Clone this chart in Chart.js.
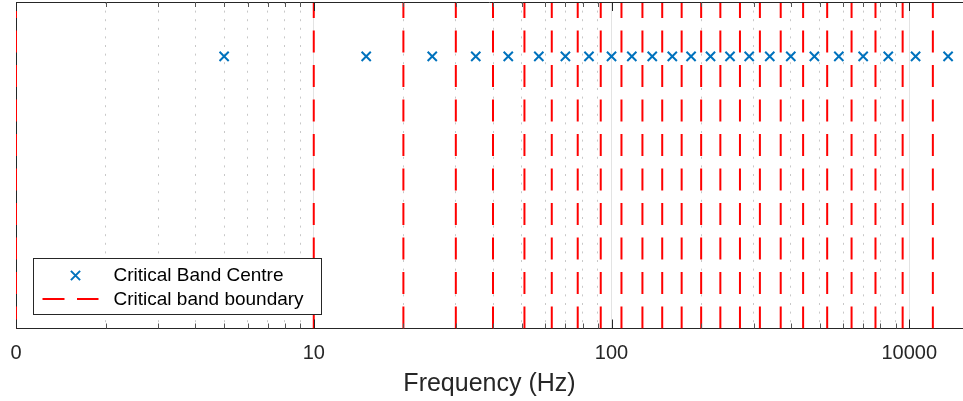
<!DOCTYPE html>
<html>
<head>
<meta charset="utf-8">
<title>Critical bands</title>
<script src="https://cdn.jsdelivr.net/npm/chart.js@4/dist/chart.umd.min.js"></script>
<style>
    html, body { margin: 0; padding: 0; background: #fff; overflow: hidden; }
    #wrap { width: 963px; height: 401px; }
</style>
</head>
<body>
<div id="wrap"><canvas id="chartBands" width="963" height="401"></canvas></div>
<script>
// values (axis units as drawn)
const bandCentres = [5, 15, 25, 35, 45, 57, 70, 84, 100, 117, 137, 160, 185, 215, 250, 290, 340, 400, 480, 580, 700, 850, 1050, 1350];
const bandBoundaries = [1, 10, 20, 30, 40, 51, 63, 77, 92, 108, 127, 148, 172, 200, 232, 270, 315, 370, 440, 530, 640, 770, 950, 1200];
const markerLevel = 1;
const tickValues = [1, 10, 100, 1000];
const tickLabels = ["0", "10", "100", "10000"];
const seriesNames = ["Critical Band Centre", "Critical band boundary"];

const FONT = '"Liberation Sans", Arial, sans-serif';
const BLUE = "#0072BD";
const RED = "#FF0000";
const AXIS = "#262626";
const DASH = [22, 12.5];

const isMajor = (v) => tickValues.includes(v);

// ticks pointing into the plot, top and bottom, like the original
const innerTicks = {
    id: "innerTicks",
    afterDraw(chart) {
        const { ctx, chartArea } = chart;
        const xs = chart.scales.x;
        ctx.save();
        ctx.lineWidth = 1;
        ctx.strokeStyle = AXIS;
        ctx.beginPath();
        ctx.moveTo(chartArea.left, chartArea.top + 0.5);
        ctx.lineTo(chartArea.right, chartArea.top + 0.5);
        ctx.stroke();
        xs.ticks.forEach((t) => {
            const px = Math.round(xs.getPixelForValue(t.value)) + 0.5;
            const len = isMajor(t.value) ? 9 : 5;
            ctx.strokeStyle = isMajor(t.value) ? AXIS : "#555555";
            ctx.beginPath();
            ctx.moveTo(px, chartArea.bottom);
            ctx.lineTo(px, chartArea.bottom - len);
            ctx.moveTo(px, chartArea.top);
            ctx.lineTo(px, chartArea.top + len);
            ctx.stroke();
        });
        ctx.restore();
    },
};

// boxed legend in the lower left corner of the plot
const boxLegend = {
    id: "boxLegend",
    afterDraw(chart) {
        const { ctx, chartArea } = chart;
        const x = chartArea.left + 17.5;
        const y = chartArea.bottom - 70;
        ctx.save();
        ctx.fillStyle = "#ffffff";
        ctx.strokeStyle = AXIS;
        ctx.lineWidth = 1;
        ctx.fillRect(x, y, 288, 56);
        ctx.strokeRect(x, y, 288, 56);

        // cross marker
        const cx = x + 42, cy = y + 17, h = 4.6;
        ctx.strokeStyle = BLUE;
        ctx.lineWidth = 2;
        ctx.beginPath();
        ctx.moveTo(cx - h, cy - h);
        ctx.lineTo(cx + h, cy + h);
        ctx.moveTo(cx - h, cy + h);
        ctx.lineTo(cx + h, cy - h);
        ctx.stroke();

        // dashed line sample
        ctx.strokeStyle = RED;
        ctx.setLineDash(DASH);
        ctx.beginPath();
        ctx.moveTo(x + 9, y + 40.5);
        ctx.lineTo(x + 65, y + 40.5);
        ctx.stroke();
        ctx.setLineDash([]);

        ctx.fillStyle = "#000000";
        ctx.font = "19px " + FONT;
        ctx.textBaseline = "middle";
        ctx.textAlign = "left";
        ctx.fillText(seriesNames[0], x + 80, y + 17);
        ctx.fillText(seriesNames[1], x + 80, y + 41);
        ctx.restore();
    },
};

let boundaryPoints = [];
bandBoundaries.forEach((b) => {
    boundaryPoints.push({ x: b, y: 0 }, { x: b, y: 1.2 }, { x: b, y: null });
});

let chart = new Chart(document.getElementById("chartBands"), {
    type: "scatter",
    data: {
        datasets: [
            {
                label: seriesNames[0],
                data: bandCentres.map((c) => ({ x: c, y: markerLevel })),
                pointStyle: "crossRot",
                pointRadius: 6.5,
                pointBorderWidth: 2,
                borderColor: BLUE,
                backgroundColor: BLUE,
            },
            {
                label: seriesNames[1],
                data: boundaryPoints,
                showLine: true,
                spanGaps: false,
                borderColor: RED,
                borderWidth: 2,
                borderDash: DASH,
                pointRadius: 0,
            },
        ],
    },
    options: {
        responsive: false,
        animation: false,
        events: [],
        layout: { autoPadding: false, padding: { left: 16, top: 2, right: 0, bottom: 0 } },
        plugins: {
            legend: { display: false },
            tooltip: { enabled: false },
        },
        scales: {
            x: {
                type: "logarithmic",
                min: 1,
                max: 1515,
                afterBuildTicks(scale) {
                    let ticks = [];
                    tickValues.forEach((d) => {
                        for (let m = 1; m <= 9; m++) {
                            if (m * d <= scale.max) ticks.push({ value: m * d });
                        }
                    });
                    scale.ticks = ticks;
                },
                afterFit(scale) {
                    scale.height = 72.5;
                    scale.paddingLeft = 0;
                    scale.paddingRight = 0;
                },
                ticks: {
                    autoSkip: false,
                    maxRotation: 0,
                    minRotation: 0,
                    padding: 13,
                    color: AXIS,
                    font: { family: FONT, size: 20 },
                    callback(value) {
                        const i = tickValues.indexOf(value);
                        return i >= 0 ? tickLabels[i] : "";
                    },
                },
                grid: {
                    drawTicks: false,
                    lineWidth: 1,
                    color: (ctx) => (ctx.tick && isMajor(ctx.tick.value) ? "#e3e3e3" : "#c8c8c8"),
                },
                border: {
                    color: AXIS,
                    width: 1,
                    dash: (ctx) => (ctx.tick && !isMajor(ctx.tick.value) ? [2, 6.6] : []),
                },
                title: {
                    display: true,
                    text: "Frequency (Hz)",
                    color: AXIS,
                    font: { family: FONT, size: 25 },
                    padding: { top: 4.5, bottom: 2 },
                },
            },
            y: {
                min: 0,
                max: 1.2,
                ticks: { display: false },
                grid: { display: false, drawTicks: false },
                border: { color: AXIS, width: 1 },
            },
        },
    },
    plugins: [innerTicks, boxLegend],
});
</script>
</body>
</html>
